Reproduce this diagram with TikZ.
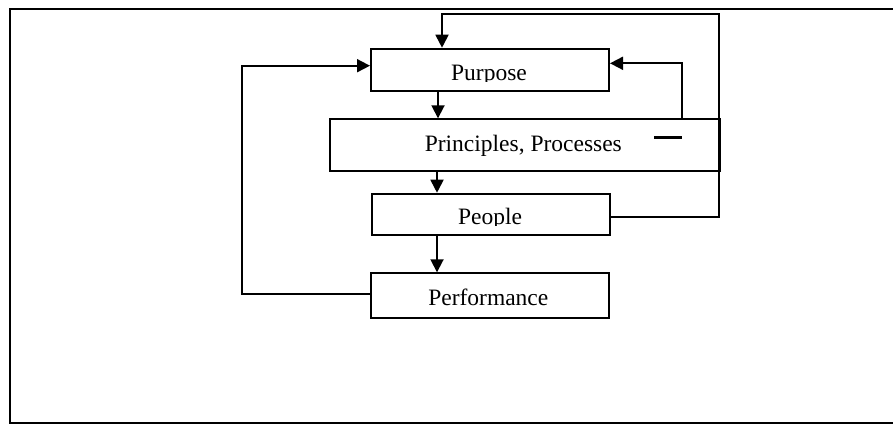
\documentclass[tikz,border=0pt]{standalone}
\usepackage{fontspec}
\setmainfont{Liberation Serif}
\usetikzlibrary{arrows.meta}
\begin{document}
\begin{tikzpicture}[x=1pt,y=-1pt,
  box/.style={draw, line width=2pt, rectangle, inner sep=0pt, anchor=north west},
  lbl/.style={font=\fontsize{23.5}{28}\selectfont, inner sep=0pt, anchor=base},
  arr/.style={line width=1.8pt, -{Triangle[length=13pt,width=13pt]}},
  frame/.style={line width=2.4pt}]
\useasboundingbox (0,0) rectangle (893,424);
% outer frame (open on the right)
\draw[frame] (893,8.7) -- (10,8.7) -- (10,423) -- (893,423);
% boxes
\node[box, minimum width=238pt, minimum height=42.3pt] (purpose) at (370,47.7) {};
\node[box, minimum width=389.7pt, minimum height=51.7pt] (principles) at (329,118.3) {};
\node[box, minimum width=238pt, minimum height=41.6pt] (people) at (371,192.7) {};
\node[box, minimum width=238pt, minimum height=44.4pt] (performance) at (370,272.3) {};
% labels (two are clipped at the baseline, as printed)
\begin{scope}
  \clip (370,47.7) rectangle (608,81);
  \node[lbl] (tpurpose) at (489,80) {Purpose};
\end{scope}
\node[lbl] (tprinciples) at (523.3,151.7) {Principles, Processes};
\begin{scope}
  \clip (371,192.7) rectangle (609,225.5);
  \node[lbl] (tpeople) at (490,224.6) {People};
\end{scope}
\node[lbl] (tperformance) at (488.3,305) {Performance};
\draw[line width=2.4pt] (654,137.3) -- (682,137.3);
% connectors
\coordinate (c1) at (438,0);
\coordinate (c2) at (437,0);
\draw[arr] (purpose.south -| c1) -- (principles.north -| c1);
\draw[arr] (principles.south -| c2) -- (people.north -| c2);
\draw[arr] (people.south -| c2) -- (performance.north -| c2);
\coordinate (rx) at (718.7,216.7);
\coordinate (tr) at (718.7,14.3);
\coordinate (tl) at (442,14.3);
\draw[arr] (people.east |- rx) -- (rx) -- (tr) -- (tl) -- (purpose.north -| tl);
\coordinate (r2) at (682,63.3);
\draw[arr] (principles.north -| r2) -- (r2) -- (purpose.east |- r2);
\coordinate (l1) at (241.7,294.3);
\coordinate (l2) at (241.7,65.7);
\draw[arr] (performance.west |- l1) -- (l1) -- (l2) -- (purpose.west |- l2);
\end{tikzpicture}
\end{document}
